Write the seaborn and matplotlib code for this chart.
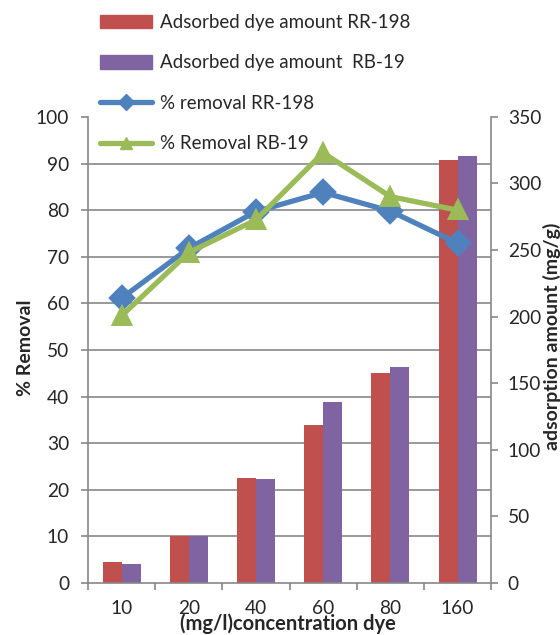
import numpy as np
import pandas as pd
import seaborn as sns
import matplotlib.pyplot as plt
from matplotlib.patches import Patch
from matplotlib.lines import Line2D

# values
conc = ['10', '20', '40', '60', '80', '160']
amount_rr198 = [15.4, 35.3, 79.0, 118.7, 158.0, 317.7]
amount_rb19 = [14.4, 35.3, 78.0, 136.0, 162.4, 321.0]
removal_rr198 = [61.1, 71.8, 79.7, 83.8, 79.8, 72.9]
removal_rb19 = [57.3, 70.9, 77.9, 92.3, 82.9, 80.0]

bar_names = ['Adsorbed dye amount RR-198', 'Adsorbed dye amount  RB-19']
line_names = ['% removal RR-198', '% Removal RB-19']

red, purple, blue, green = '#C0504D', '#8064A2', '#4F81BD', '#9BBB59'
gray = '#878787'

bars = pd.DataFrame({'conc': conc * 2,
                     'amount': amount_rr198 + amount_rb19,
                     'series': [bar_names[0]] * 6 + [bar_names[1]] * 6})
lines = pd.DataFrame({'conc': conc * 2,
                      'removal': removal_rr198 + removal_rb19,
                      'series': [line_names[0]] * 6 + [line_names[1]] * 6})

sns.set_theme(style='white')
plt.rcParams['font.family'] = ['Lato', 'DejaVu Sans']
fs = 13.8
fl = 14

fig = plt.figure(figsize=(5.6, 6.35), dpi=100)
ax = fig.add_axes([0.157, 0.0819, 0.72, 0.734])

# bars (adsorption amount) -> drawn first, right axis
sns.barplot(data=bars, x='conc', y='amount', hue='series', palette=[red, purple],
            width=0.566, gap=0, saturation=1, linewidth=0, legend=False, ax=ax)

# lines (% removal) on top, left axis
ax2 = ax.twinx()
sns.pointplot(data=lines, x='conc', y='removal', hue='series', palette=[blue, green],
              markers=['D', '^'], linestyles=['-', '-'], errorbar=None, legend=False,
              markersize=11, linewidth=3.8, ax=ax2)

# swap the y axes: amount on the right, % removal on the left
ax.yaxis.tick_right()
ax.yaxis.set_label_position('right')
ax2.yaxis.tick_left()
ax2.yaxis.set_label_position('left')

ax.set_ylim(0, 350)
ax.set_yticks(range(0, 351, 50))
ax2.set_ylim(0, 100)
ax2.set_yticks(range(0, 101, 10))

# horizontal grid follows the % removal scale, behind the bars
ax.set_yticks(np.arange(0, 351, 35), minor=True)
ax.grid(which='minor', axis='y', color=gray, linewidth=1.2)
ax.grid(which='major', visible=False)
ax.set_axisbelow(True)

# category ticks between groups, labels at the centres
ax.set_xlim(-0.5, 5.5)
ax.set_xticks(np.arange(-0.5, 6, 1))
ax.set_xticklabels([])
ax.set_xticks(range(6), minor=True)
ax.set_xticklabels(conc, minor=True, fontsize=fs)
ax.tick_params(axis='x', which='major', bottom=True, length=5, width=1.2, color=gray, direction='out')
ax.tick_params(axis='x', which='minor', bottom=True, length=0, pad=12)
ax.tick_params(axis='y', which='major', right=True, length=5, width=1.2, color=gray,
               direction='out', labelsize=fs, pad=7)
ax.tick_params(axis='y', which='minor', length=0)
ax2.tick_params(axis='y', left=True, length=5, width=1.2, color=gray,
                direction='out', labelsize=fs, pad=8.5)

for s in ['left', 'right', 'bottom']:
    ax.spines[s].set_visible(True)
    ax.spines[s].set_color(gray)
    ax.spines[s].set_linewidth(1.2)
ax.spines['top'].set_visible(False)
for s in ax2.spines.values():
    s.set_visible(False)

ax.set_xlabel('(mg/l)concentration dye', fontsize=14.5, fontweight='bold')
ax.xaxis.set_label_coords(0.497, -0.065)
ax.set_ylabel('adsorption amount (mg/g)', fontsize=fl, fontweight='bold')
ax.yaxis.set_label_coords(1.128, 0.53)
ax2.set_ylabel('% Removal', fontsize=fl, fontweight='bold')
ax2.yaxis.set_label_coords(-0.133, 0.505)

handles = [Patch(color=red), Patch(color=purple),
           Line2D([], [], color=blue, lw=3.8, marker='D', ms=8),
           Line2D([], [], color=green, lw=3.8, marker='^', ms=9)]
fig.legend(handles, bar_names + line_names, loc='upper left',
           bbox_to_anchor=(0.179, 0.978), frameon=False, fontsize=13.5,
           handlelength=2.75, handleheight=0.75, labelspacing=1.25,
           handletextpad=0.45, borderpad=0, borderaxespad=0)

fig.savefig('out.png', dpi=100)
